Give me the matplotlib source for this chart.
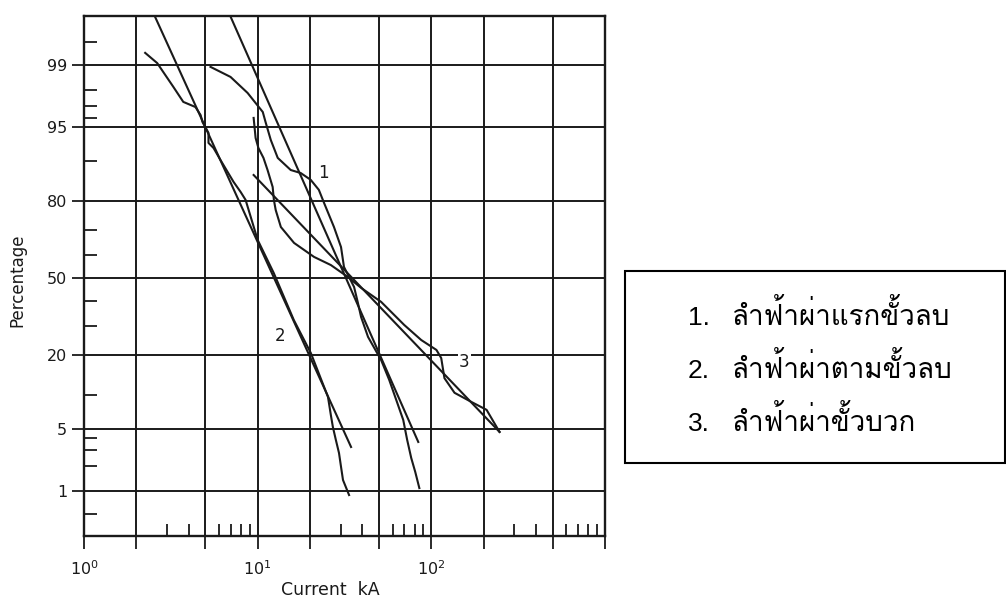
import numpy as np
import matplotlib
matplotlib.use("Agg")
import matplotlib.pyplot as plt
from matplotlib import font_manager
from matplotlib.patches import Rectangle
from statistics import NormalDist

# ---------------- data ----------------
# curve 1: first negative strokes
c1_fit_current = [7.0, 84.1]
c1_fit_percent = [99.78, 3.67]
c1_data_current = [5.35, 6.98, 8.75, 10.7, 11.1, 11.9, 13.05, 15.5, 17.7, 20.2, 22.5, 24.1,
                   27.5, 30.2, 31.4, 35.9, 37.8, 39.4, 43.2, 51.4, 57.2, 62.8, 68.9, 72.6,
                   76.6, 80.8, 85.3]
c1_data_percent = [98.94, 98.59, 97.83, 96.50, 95.57, 93.4, 90.5, 88.07, 87.4, 85.8, 83.2, 79.4,
                   71.1, 63.2, 54.8, 46.1, 39.2, 33.5, 26.0, 18.5, 13.3, 9.15, 6.06, 3.85,
                   2.47, 1.71, 1.09]
# curve 2: subsequent negative strokes
c2_fit_current = [2.57, 34.5]
c2_fit_percent = [99.78, 3.25]
c2_data_current = [2.25, 2.64, 3.27, 3.73, 4.38, 4.69, 4.81, 5.21, 5.21, 5.57, 6.11, 7.26, 7.98,
                   8.52, 10.0, 12.37, 16.15, 20.25, 25.4, 26.4, 27.1, 28.2, 29.4, 30.2, 31.0, 33.6]
c2_data_percent = [99.3, 99.05, 98.15, 97.27, 96.9, 96.24, 95.57, 94.33, 92.98, 92.2, 90.1, 85.3,
                   82.6, 80.3, 66.1, 52.2, 32.3, 20.6, 9.7, 6.7, 5.2, 3.85, 2.8, 1.96, 1.37, 0.89]
# curve 3: positive strokes
c3_fit_current = [9.48, 247]
c3_fit_percent = [86.95, 4.64]
c3_data_current = [9.48, 9.73, 10.1, 10.8, 11.4, 12.2, 12.4, 12.7, 13.6, 16.2, 21.1, 26.4, 33.1,
                   39.4, 51.4, 69.8, 87.5, 107, 114, 119, 136, 170, 208, 247]
c3_data_percent = [95.97, 93.68, 92.2, 90.5, 88.07, 83.97, 80.27, 77.1, 71.1, 64.9, 59.1, 55.6,
                   50.4, 45.7, 39.7, 30.4, 24.9, 21.6, 19.1, 13.7, 10.5, 8.8, 7.5, 4.64]

curve_labels = ["1", "2", "3"]
label_current = [23.8, 13.4, 155]
label_percent = [87.4, 26.3, 18.0]

y_major = [1, 5, 20, 50, 80, 95, 99]
y_major_labels = ["1", "5", "20", "50", "80", "95", "99"]
y_minor = [0.5, 2, 3, 4, 10, 30, 40, 60, 70, 90, 96, 97, 98, 99.5]
x_major = [1, 2, 5, 10, 20, 50, 100, 200, 500, 1000]
x_major_labels = ["$10^0$", "", "", "$10^1$", "", "", "$10^2$", "", "", ""]
x_minor = [3, 4, 6, 7, 8, 9, 30, 40, 60, 70, 80, 90, 300, 400, 600, 700, 800, 900]

legend_numbers = ["1.", "2.", "3."]
legend_texts = ["ลำฟ้าผ่าแรกขั้วลบ", "ลำฟ้าผ่าตามขั้วลบ", "ลำฟ้าผ่าขั้วบวก"]

# ---------------- font selection for Thai ----------------
_names = sorted({f.name for f in font_manager.fontManager.ttflist})
_pref = ["Loma", "Noto Sans Thai Looped", "Noto Sans Thai", "Anuphan"]
thai_family = [n for n in _pref if n in _names][:1] + ["DejaVu Sans"]

# ---------------- probability scale ----------------
_nd = NormalDist()


def _fwd(p):
    p = np.asarray(p, dtype=float)
    out = [(_nd.inv_cdf(min(max(v / 100.0, 1e-9), 1 - 1e-9)) if np.isfinite(v) else np.nan)
           for v in p.ravel()]
    return np.array(out, dtype=float).reshape(p.shape)


def _inv(z):
    z = np.asarray(z, dtype=float)
    out = [(_nd.cdf(v) * 100.0 if np.isfinite(v) else np.nan) for v in z.ravel()]
    return np.array(out, dtype=float).reshape(z.shape)


ink = "#1a1a1a"
fig = plt.figure(figsize=(10.06, 6.03), dpi=100)
ax = fig.add_axes([84 / 1006, 67 / 603, 521 / 1006, 520 / 603])
ax.set_xscale("log")
ax.set_yscale("function", functions=(_fwd, _inv))
ax.set_xlim(1, 1000)
ax.set_ylim(0.2425, 99.788)

for cur, pct in [(c1_fit_current, c1_fit_percent), (c1_data_current, c1_data_percent),
                 (c2_fit_current, c2_fit_percent), (c2_data_current, c2_data_percent),
                 (c3_fit_current, c3_fit_percent), (c3_data_current, c3_data_percent)]:
    ax.plot(cur, pct, color=ink, lw=1.5, solid_joinstyle="round", zorder=3)

for t, xc, yp in zip(curve_labels, label_current, label_percent):
    ax.text(xc, yp, t, fontsize=12, color=ink, ha="center", va="center", zorder=4,
            bbox=dict(facecolor="white", edgecolor="none", pad=1) if t == "3" else None)

ax.set_yticks(y_major)
ax.set_yticklabels(y_major_labels)
ax.set_yticks(y_minor, minor=True)
ax.set_xticks(x_major)
ax.set_xticklabels(x_major_labels)
ax.set_xticks(x_minor, minor=True)
ax.set_xticklabels([], minor=True)
ax.set_yticklabels([], minor=True)
ax.tick_params(axis="both", which="major", direction="out", length=9, width=1.3,
               color=ink, labelsize=11.5, labelcolor=ink)
ax.tick_params(axis="y", which="major", pad=3)
ax.tick_params(axis="x", which="major", pad=8)
ax.tick_params(axis="both", which="minor", direction="in", length=9, width=1.3, color=ink)
ax.grid(True, which="major", color=ink, lw=1.4)
for s in ax.spines.values():
    s.set_linewidth(1.7)
    s.set_color(ink)

fig.text(17 / 1006, 1 - 280 / 603, "Percentage", rotation=90, ha="center", va="center",
         fontsize=12, color=ink)
fig.text(330 / 1006, 1 - 590 / 603, "Current  kA", ha="center", va="center",
         fontsize=12.5, color=ink)

# legend box
fig.patches.append(Rectangle((625 / 1006, 1 - 463 / 603), 380 / 1006, 192 / 603,
                             transform=fig.transFigure, fill=False, edgecolor="black", lw=1.5))
for i, (n, t) in enumerate(zip(legend_numbers, legend_texts)):
    yb = 1 - (325 + 53 * i) / 603
    fig.text(688 / 1006, yb, n, fontsize=19, family=["Liberation Sans", "DejaVu Sans"],
             va="baseline", ha="left")
    fig.text(732 / 1006, yb, t, fontsize=20, family=thai_family, va="baseline", ha="left")

fig.savefig("out.png", dpi=100)
